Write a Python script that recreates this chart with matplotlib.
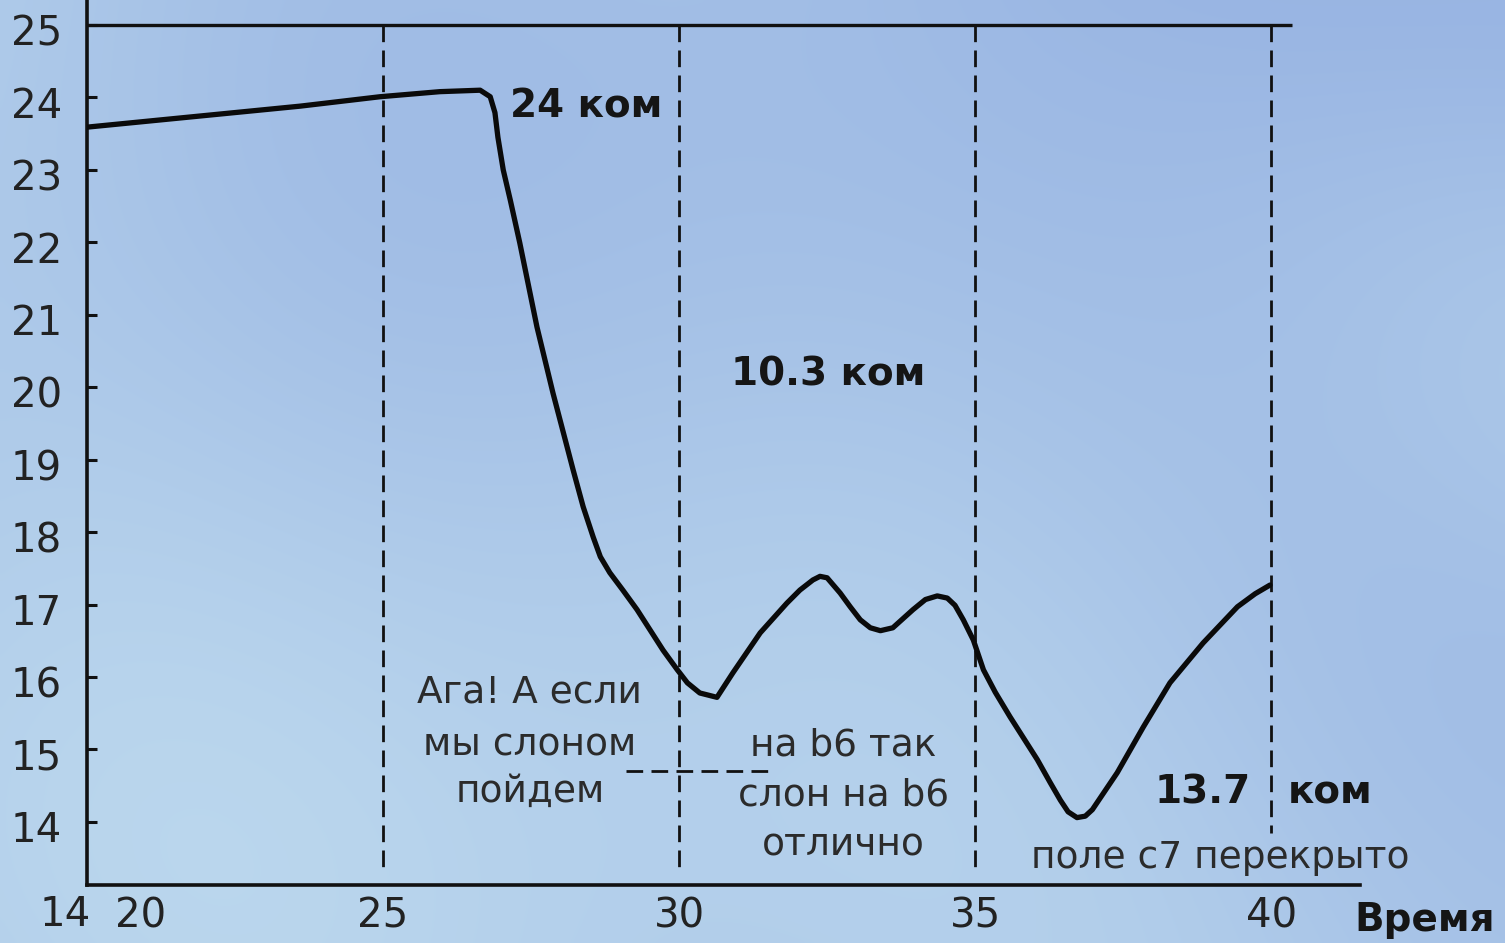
import numpy as np
import matplotlib
matplotlib.use("Agg")
import matplotlib.pyplot as plt
from matplotlib.transforms import ScaledTranslation

# Evaluation curve (time vs. score)
time = [20.0, 23.60, 24.95, 25.96, 26.64, 26.81, 26.89, 26.94, 27.03, 27.15,
        27.31, 27.60, 27.87, 28.21, 28.38, 28.55, 28.67, 28.83, 29.05, 29.29,
        29.51, 29.73, 29.97, 30.14, 30.35, 30.64, 30.91, 31.37, 31.82, 32.04,
        32.26, 32.38, 32.50, 32.72, 32.89, 33.06, 33.23, 33.40, 33.61, 33.95,
        34.16, 34.36, 34.53, 34.66, 34.80, 34.97, 35.14, 35.34, 35.59, 36.05,
        36.27, 36.44, 36.57, 36.72, 36.86, 36.98, 37.40, 37.84, 38.29, 38.85,
        39.43, 39.73, 39.98]
score = [23.59, 23.88, 24.01, 24.08, 24.10, 24.01, 23.79, 23.45, 23.00, 22.58,
         21.99, 20.83, 19.92, 18.86, 18.35, 17.93, 17.66, 17.44, 17.20, 16.93,
         16.65, 16.37, 16.10, 15.92, 15.78, 15.72, 16.06, 16.61, 17.02, 17.20,
         17.34, 17.39, 17.37, 17.16, 16.97, 16.79, 16.68, 16.64, 16.68, 16.93,
         17.07, 17.12, 17.09, 16.99, 16.79, 16.51, 16.10, 15.79, 15.45, 14.86,
         14.54, 14.30, 14.14, 14.06, 14.08, 14.17, 14.68, 15.31, 15.92, 16.47,
         16.97, 17.15, 17.27]

phase_marks = [25, 30, 35, 40]
y_ticks = list(range(14, 26))
x_tick_pos = [20.9, 25, 30, 35, 40]
x_tick_labels = ["20", "25", "30", "35", "40"]

W, H = 1505, 943
fig = plt.figure(figsize=(W / 100, H / 100), dpi=100)

# soft cloudy sky backdrop
bg = fig.add_axes([0, 0, 1, 1], zorder=-10)
gx, gy = np.meshgrid(np.linspace(0, 1, 400), np.linspace(0, 1, 250))
field = (0.45 * np.sin(3.1 * gx + 1.3 * gy + 0.4)
         + 0.35 * np.sin(5.3 * gy - 2.2 * gx + 1.1)
         + 0.25 * np.sin(8.7 * gx * gy + 2.0)
         + 0.20 * np.sin(11.0 * gx + 3.0 * gy)
         - 0.6 * gy)
field = (field - field.min()) / (field.max() - field.min())
dark = np.array([0.60, 0.71, 0.89])
light = np.array([0.73, 0.84, 0.93])
img = dark + (light - dark) * field[..., None]
bg.imshow(img, aspect="auto", extent=[0, 1, 0, 1], origin="lower", interpolation="bicubic")
bg.set_axis_off()

ax = fig.add_axes([87 / W, 58 / H, (1360 - 87) / W, 885 / H])
ax.set_facecolor("none")
ax.set_xlim(20, 41.5)
ax.set_ylim(25 - 860 / 72.45, 25 + 25 / 72.45)

for s in ["top", "right"]:
    ax.spines[s].set_visible(False)
for s in ["left", "bottom"]:
    ax.spines[s].set_linewidth(2.6)
    ax.spines[s].set_color("#111111")

ax.set_yticks(y_ticks)
ax.set_yticklabels([str(v) for v in y_ticks])
ax.tick_params(axis="y", direction="in", length=7, width=2.2, pad=18,
               labelsize=29, labelcolor="#222222", colors="#111111")
for lab in ax.get_yticklabels():
    lab.set_transform(lab.get_transform() + ScaledTranslation(0, -0.05, fig.dpi_scale_trans))

ax.set_xticks(x_tick_pos)
ax.set_xticklabels(x_tick_labels)
ax.tick_params(axis="x", length=0, pad=8, labelsize=29, labelcolor="#222222")

# top boundary line
ax.plot([20, 40.35], [25, 25], color="#111111", lw=2.4, solid_capstyle="butt", clip_on=False)

# phase separators
dash = (0, (6, 3))
for xm in phase_marks:
    y_low = 13.35 if xm < 40 else 13.85
    ax.plot([xm, xm], [25, y_low], color="#111111", lw=2.0, linestyle=dash)
ax.plot([29.1, 31.5], [14.70, 14.70], color="#111111", lw=2.0, linestyle=dash)

ax.plot(time, score, color="#0a0a0a", lw=3.8, solid_joinstyle="round",
        solid_capstyle="round", zorder=5)

bold = dict(fontsize=28, fontweight="bold", color="#151515", va="center")
ax.text(27.15, 23.87, "24 ком", ha="left", **bold)
ax.text(32.52, 20.17, "10.3 ком", ha="center", **bold)
ax.text(38.85, 14.41, "13.7", ha="center", **bold)
ax.text(41.0, 14.41, "ком", ha="center", **bold)
ax.text(42.6, 12.65, "Время", ha="center", clip_on=False, **bold)

note = dict(fontsize=27, color="#2b2b2b", ha="center", va="center")
ax.text(27.48, 15.79, "Ага! А если", **note)
ax.text(27.48, 15.06, "мы слоном", **note)
ax.text(27.48, 14.41, "пойдем", **note)
ax.text(32.77, 15.06, "на b6 так", **note)
ax.text(32.77, 14.37, "слон на b6", **note)
ax.text(32.77, 13.68, "отлично", **note)
ax.text(39.14, 13.50, "поле с7 перекрыто", **note)

ax.text(19.63, 12.72, "14", fontsize=29, color="#222222", ha="center", va="center",
        clip_on=False)

fig.savefig("out.png", dpi=100)
